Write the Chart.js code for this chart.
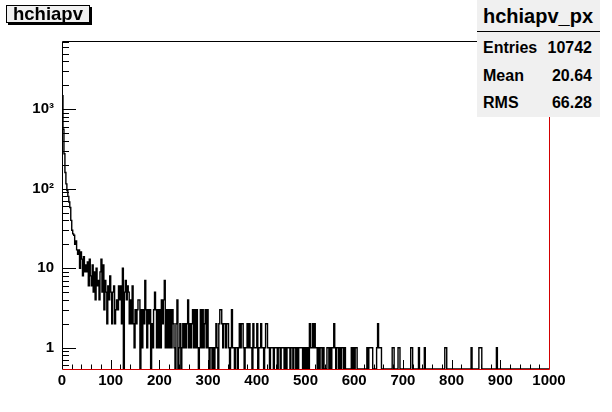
<!DOCTYPE html>
<html>
<head>
<meta charset="utf-8">
<script src="https://cdn.jsdelivr.net/npm/chart.js@4.4.1/dist/chart.umd.min.js"></script>
<style>
html,body{margin:0;padding:0;background:#fff;}
#wrap{position:relative;width:612px;height:412px;overflow:hidden;}
#c{position:absolute;left:0;top:0;}
.tbox{position:absolute;left:6px;top:5px;width:82px;height:16px;border:1px solid #000;box-shadow:2px 2px 0 #000;background:#f0f0f0;
  font:bold 18.5px "Liberation Sans",Arial,sans-serif;line-height:16px;text-align:center;color:#000;white-space:nowrap;}
.stats{position:absolute;left:477px;top:0;width:123px;height:117px;background:#f0f0f0;color:#000;
  font-family:"Liberation Sans",Arial,sans-serif;font-weight:bold;}
.stats .t{position:absolute;left:6px;top:6px;font-size:20px;line-height:20px;}
.stats .sep{position:absolute;left:0;top:31px;width:123px;height:1px;background:#000;}
.stats .k{position:absolute;left:6px;font-size:16px;line-height:16px;}
.stats .v{position:absolute;right:8px;font-size:16px;line-height:16px;text-align:right;}
</style>
</head>
<body>
<div id="wrap">
<canvas id="c" width="612" height="412"></canvas>
<div class="tbox">hchiapv</div>
<div class="stats">
  <div class="t">hchiapv_px</div>
  <div class="sep"></div>
  <div class="k" style="top:40px">Entries</div><div class="v" style="top:40px">10742</div>
  <div class="k" style="top:68px">Mean</div><div class="v" style="top:68px">20.64</div>
  <div class="k" style="top:95px">RMS</div><div class="v" style="top:95px">66.28</div>
</div>
</div>
<script>
// ---- data ----
const xMin = 0, xMax = 1000;
const binWidth = 2;            // 500 bins from 0 to 1000
const counts = [
  1480,560,275,160,115,95,80,68,58,40,
  30,27,26,20,22,17,15,17,10,16,
  13,8,14,9,11,9,12,6,13,8,
  6,11,5,9,4,10,6,7,4,9,
  13,5,11,3,7,5,2,6,4,8,
  5,2,5,6,2,3,4,3,6,4,
  6,2,10,0,5,7,4,6,5,2,
  4,2,6,2,1,3,2,3,4,4,
  0,3,1,3,2,7,3,1,3,2,
  3,0,2,1,3,5,3,1,3,1,
  3,1,4,2,4,7,1,3,1,3,
  1,3,1,3,2,1,0,2,4,0,
  1,2,0,1,2,1,2,1,2,4,
  1,2,1,2,3,1,3,1,3,1,
  0,1,3,1,3,1,2,3,1,3,
  1,0,1,1,0,1,0,1,2,1,
  0,2,3,3,2,1,2,2,1,2,
  2,1,0,1,3,1,1,0,1,1,
  0,1,2,1,2,2,1,0,1,1,
  2,1,2,1,1,0,2,1,1,1,
  2,0,1,1,2,1,1,0,1,2,
  2,1,1,0,1,1,1,0,1,1,
  1,0,1,1,0,1,1,1,0,1,
  0,1,1,1,0,1,1,0,1,1,
  0,1,0,1,1,1,1,0,1,0,
  1,0,1,0,2,1,1,2,1,2,
  1,1,0,1,0,1,1,0,1,0,
  0,0,1,1,0,1,0,1,1,2,
  1,0,1,1,0,1,0,1,1,0,
  1,0,0,0,0,0,0,1,0,1,
  0,1,1,0,0,0,0,0,0,0,
  0,0,0,1,0,1,1,1,1,0,
  0,0,0,1,2,1,1,1,0,0,
  0,0,0,0,0,0,0,0,0,1,
  1,0,0,0,0,1,1,0,0,0,
  0,0,0,0,0,0,0,0,1,1,
  0,0,0,0,0,0,1,0,0,0,
  0,0,1,0,0,0,0,0,0,0,
  0,0,0,0,0,0,0,0,0,0,
  0,0,0,1,1,0,0,0,0,0,
  0,0,0,0,0,0,0,0,0,0,
  0,0,0,0,0,0,0,0,0,0,
  1,0,0,0,0,0,0,0,1,1,
  1,0,0,0,0,0,0,0,0,0,
  0,0,0,0,0,0,1,0,0,0,
  0,0,0,0,0,0,0,0,0,0,
  0,0,0,0,0,0,0,0,0,0,
  0,0,0,0,0,0,0,0,0,0,
  0,0,0,0,0,0,0,0,0,0,
  0,0,0,0,0,0,0,0,0,0
];
const yMin = 0.54, yMax = 7200;
const xTickValues = [0,100,200,300,400,500,600,700,800,900,1000];
const yTickValues = [1,10,100,1000];
const yTickLabels = ['1','10','10\u00B2','10\u00B3'];

// ---- build the step path points from the counts ----
const pts = [{x: xMin, y: yMin}];
counts.forEach((c, i) => pts.push({x: xMin + i * binWidth, y: c > 0 ? c : yMin}));
pts.push({x: xMax, y: counts[counts.length-1] > 0 ? counts[counts.length-1] : yMin});
pts.push({x: xMax, y: yMin});

const FONT = '"Liberation Sans", Arial, sans-serif';

const frameTicks = {
  id: 'frameTicks',
  afterDatasetsDraw(chart) {
    const {ctx, chartArea: a, scales: {x, y}} = chart;
    ctx.save();
    ctx.lineWidth = 1;
    ctx.strokeStyle = '#000';
    ctx.beginPath();
    for (let v = xMin; v <= xMax; v += 20) {
      const px = Math.round(x.getPixelForValue(v)) + 0.5;
      const len = (v % 100 === 0) ? 9 : 4.5;
      ctx.moveTo(px, a.bottom); ctx.lineTo(px, a.bottom - len);
    }
    for (let d = 0.1; d < 10000; d *= 10) {
      for (let k = 1; k <= 9; k++) {
        const v = k * d;
        if (v < yMin || v > yMax) continue;
        const py = Math.round(y.getPixelForValue(v)) + 0.5;
        const len = (k === 1) ? 14 : 7;
        ctx.moveTo(a.left, py); ctx.lineTo(a.left + len, py);
      }
    }
    const t = Math.round(a.top) + 0.5, l = Math.round(a.left) + 0.5;
    const b = Math.round(a.bottom) + 0.5, r = Math.round(a.right) + 0.5;
    ctx.moveTo(l, t); ctx.lineTo(r, t);
    ctx.moveTo(l, t); ctx.lineTo(l, b);
    ctx.stroke();
    ctx.strokeStyle = 'rgb(210,0,0)';
    ctx.beginPath();
    ctx.moveTo(l, b); ctx.lineTo(r, b);
    ctx.moveTo(r, t); ctx.lineTo(r, b);
    ctx.stroke();
    ctx.restore();
  }
};

new Chart(document.getElementById('c'), {
  type: 'line',
  data: {
    datasets: [{
      data: pts,
      borderColor: '#000',
      borderWidth: 1.4,
      pointRadius: 0,
      stepped: true,
      tension: 0,
      fill: false
    }]
  },
  options: {
    responsive: false,
    animation: false,
    devicePixelRatio: 1,
    layout: {padding: {top: 41, right: 63, left: 0, bottom: 0}},
    plugins: {legend: {display: false}, tooltip: {enabled: false}, title: {display: false}},
    scales: {
      x: {
        type: 'linear', min: xMin, max: xMax,
        grid: {display: false, drawTicks: false},
        border: {display: false},
        afterBuildTicks: s => { s.ticks = xTickValues.map(v => ({value: v})); },
        afterFit: s => { s.height = 43; },
        ticks: {autoSkip: false, maxRotation: 0, padding: 3, color: '#000',
                font: {family: FONT, size: 15, weight: 'bold'},
                callback: v => String(v)}
      },
      y: {
        type: 'logarithmic', min: yMin, max: yMax,
        grid: {display: false, drawTicks: false},
        border: {display: false},
        afterBuildTicks: s => { s.ticks = yTickValues.map(v => ({value: v})); },
        afterFit: s => { s.width = 62; },
        ticks: {autoSkip: false, padding: 8, color: '#000',
                font: {family: FONT, size: 15, weight: 'bold'},
                callback: v => { const i = yTickValues.indexOf(v); return i >= 0 ? yTickLabels[i] : ''; }}
      }
    }
  },
  plugins: [frameTicks]
});
</script>
</body>
</html>
